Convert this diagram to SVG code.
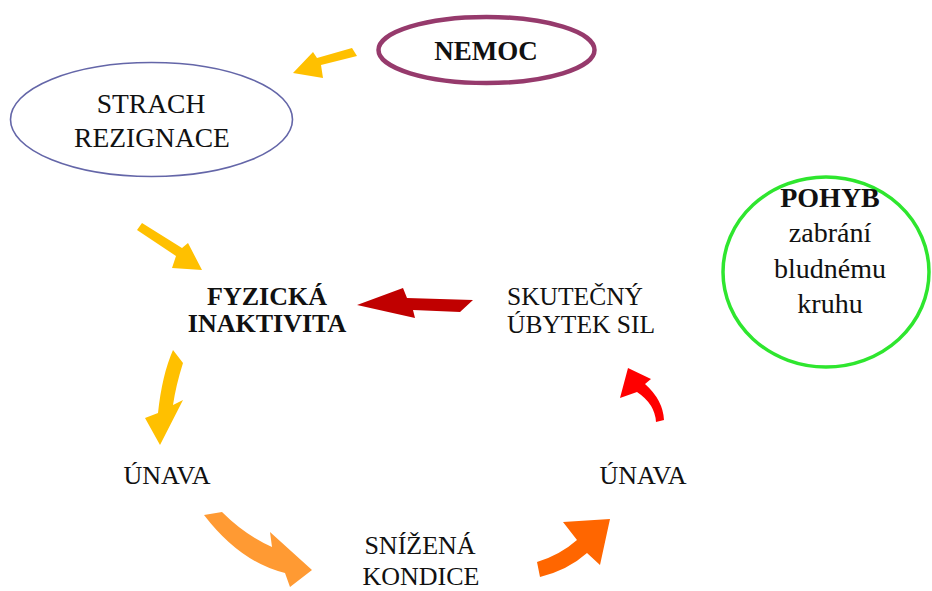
<svg xmlns="http://www.w3.org/2000/svg" width="932" height="591" viewBox="0 0 932 591">
<style>
text{font-family:"Liberation Serif","Times New Roman",serif;fill:#111;}
.b{font-weight:bold;}
.c{text-anchor:middle;}
</style>
<rect width="932" height="591" fill="#fff"/>
<g id="nemoc">
<ellipse cx="486.5" cy="50" rx="108" ry="33" fill="none" stroke="#963a6c" stroke-width="4.5"/>
<text class="b c" x="486" y="60" font-size="27">NEMOC</text>
</g>
<g id="strach">
<ellipse cx="151.5" cy="119.5" rx="141" ry="57" fill="none" stroke="#6466a8" stroke-width="1.6"/>
<text class="c" x="151" y="113" font-size="27.5">STRACH</text>
<text class="c" x="152" y="147" font-size="27.5">REZIGNACE</text>
</g>
<g id="pohyb">
<ellipse cx="826" cy="272" rx="103" ry="95" fill="none" stroke="#2ee62e" stroke-width="3.5"/>
<text class="b c" x="830" y="207" font-size="28">POHYB</text>
<text class="c" x="830" y="242" font-size="28">zabrání</text>
<text class="c" x="830" y="278" font-size="28">bludnému</text>
<text class="c" x="830" y="313" font-size="28">kruhu</text>
</g>
<g id="fyzicka">
<text class="b c" x="267" y="305" font-size="26">FYZICKÁ</text>
<text class="b c" x="267" y="332" font-size="26">INAKTIVITA</text>
</g>
<g id="skutecny">
<text x="507" y="305" font-size="25.5">SKUTEČNÝ</text>
<text x="507" y="333" font-size="25.5">ÚBYTEK SIL</text>
</g>
<g id="unava1">
<text class="c" x="167" y="484" font-size="26">ÚNAVA</text>
</g>
<g id="unava2">
<text class="c" x="643" y="484" font-size="26">ÚNAVA</text>
</g>
<g id="snizena">
<text class="c" x="420" y="554" font-size="26">SNÍŽENÁ</text>
<text class="c" x="421" y="585" font-size="26">KONDICE</text>
</g>
<g id="connectors">
<path d="M352,48 L317,58 L313,52 L293,73 L323,78 L321,65 L357,56 Z" fill="#ffc000"/>
<path d="M142,223 L182,248 L188,243 L202,270 L172,268 L176,256 L137,230 Z" fill="#ffc000"/>
<path d="M473,300 L407,298 L403,288 L357,305 L415,318 L413,310 L460,312 Z" fill="#c00000"/>
<path d="M173,350 L183,363 Q176,385 173,405 L183,400 L160,445 L145,418 L158,413 Q162,375 173,350 Z" fill="#ffc000"/>
<path d="M204,515 L222,512 Q245,535 272,547 L270,532 L312,570 L290,587 L285,573 Q240,562 204,515 Z" fill="#ff9a33"/>
<path d="M537,562 Q560,555 577,540 L563,522 L610,519 L600,565 L587,553 Q568,570 540,577 Z" fill="#ff6600"/>
<path d="M628,368 L651,379 L645,384 Q663,400 664,420 L656,422 Q655,404 637,392 L620,398 Z" fill="#ff0000"/>
</g>
</svg>
